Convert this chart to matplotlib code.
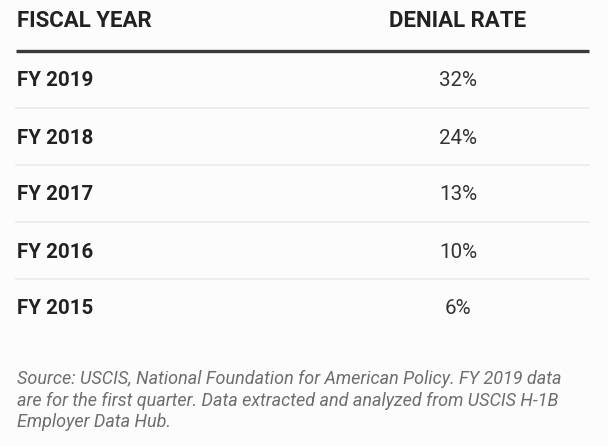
import matplotlib.pyplot as plt

years = ['FY 2019', 'FY 2018', 'FY 2017', 'FY 2016', 'FY 2015']
rates = [32, 24, 13, 10, 6]
headers = ['FISCAL YEAR', 'DENIAL RATE']
source_lines = [
    'Source: USCIS, National Foundation for American Policy. FY 2019 data',
    'are for the first quarter. Data extracted and analyzed from USCIS H-1B',
    'Employer Data Hub.',
]

plt.rcParams['font.family'] = ['Roboto', 'DejaVu Sans']

W, H = 608, 446
fig = plt.figure(figsize=(W / 100, H / 100), dpi=100, facecolor='#fcfcfc')
ax = fig.add_axes([0, 0, 1, 1])
ax.set_xlim(0, W)
ax.set_ylim(H, 0)
ax.axis('off')

left, right = 16, 589
col2 = 458
row0, row_h = 86.5, 57

# header
ax.text(left + 1, 27, headers[0], fontsize=16, fontweight='bold', color='#222222', va='baseline')
ax.text(col2, 27, headers[1], fontsize=16, fontweight='bold', color='#222222', va='baseline', ha='center')
ax.plot([left, right], [51, 51], color='#3a3a3a', lw=2.4, solid_capstyle='butt')

for i, (yr, r) in enumerate(zip(years, rates)):
    y = row0 + row_h * i
    ax.text(left + 1, y, yr, fontsize=14.8, fontweight='bold', color='#222222', va='baseline')
    ax.text(col2, y, f'{r}%', fontsize=14.8, color='#333333', va='baseline', ha='center')
    if i < len(years) - 1:
        ys = y + 21.5
        ax.plot([left, right], [ys, ys], color='#ececec', lw=1.2)

for j, line in enumerate(source_lines):
    ax.text(left + 1, 384.5 + 21.3 * j, line, fontsize=13, style='italic', color='#6e6e6e', va='baseline')

fig.savefig('out.png', dpi=100, facecolor=fig.get_facecolor())
